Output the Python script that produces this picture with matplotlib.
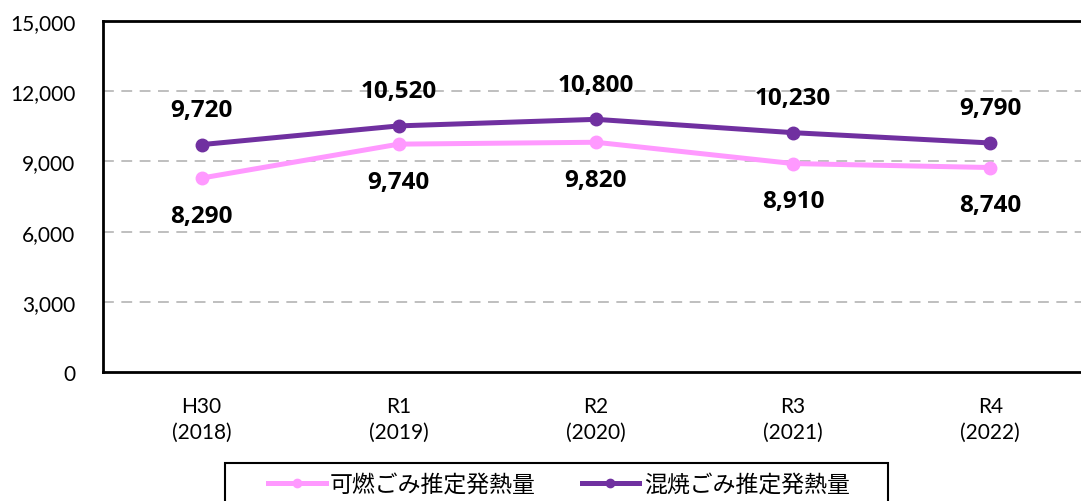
import matplotlib.pyplot as plt
from matplotlib.lines import Line2D
from matplotlib.patches import Rectangle

plt.rcParams['font.family'] = ['Lato', 'Noto Sans CJK JP', 'DejaVu Sans']

# データ
categories = ['H30\n(2018)', 'R1\n(2019)', 'R2\n(2020)', 'R3\n(2021)', 'R4\n(2022)']
kanen = [8290, 9740, 9820, 8910, 8740]        # 可燃ごみ推定発熱量
konsho = [9720, 10520, 10800, 10230, 9790]    # 混焼ごみ推定発熱量
yticks = [0, 3000, 6000, 9000, 12000, 15000]
names = ['可燃ごみ推定発熱量', '混焼ごみ推定発熱量']

pink = '#FF99FF'
purple = '#7030A0'

fig = plt.figure(figsize=(10.81, 5.02), dpi=100)
ax = fig.add_axes([0.0953, 0.257, 0.912, 0.699])

x = list(range(len(categories)))
ax.plot(x, kanen, color=pink, lw=3.6, marker='o', ms=9, zorder=3)
ax.plot(x, konsho, color=purple, lw=3.6, marker='o', ms=9, zorder=3)

lab = dict(ha='center', va='center', fontsize=17.5, fontweight='bold',
           family=['Open Sans', 'DejaVu Sans'], textcoords='offset points')
for xi, v in zip(x, konsho):
    ax.annotate(f'{v:,}', (xi, v), xytext=(0, 25), **lab)
for xi, v in zip(x, kanen):
    ax.annotate(f'{v:,}', (xi, v), xytext=(0, -27), **lab)

ax.set_xlim(-0.5, 4.5)
ax.set_ylim(0, 15000)
ax.set_yticks(yticks)
ax.set_yticklabels([f'{t:,}' for t in yticks], fontsize=15)
ax.set_xticks(x)
ax.set_xticklabels(categories, fontsize=15, linespacing=1.4)
ax.tick_params(length=0)
ax.tick_params(axis='y', pad=20)
ax.tick_params(axis='x', pad=17)

for t in yticks[1:-1]:
    ax.axhline(t, color='#B4B4B4', lw=1.2, ls=(0, (6.5, 4.5)), zorder=1)

for s in ax.spines.values():
    s.set_linewidth(2)
    s.set_color('black')

# 凡例
handles = [Line2D([], [], color=pink, lw=3.6, marker='o', ms=6),
           Line2D([], [], color=purple, lw=3.6, marker='o', ms=6)]
fig.legend(handles, names, loc='center', bbox_to_anchor=(0.517, 0.034), ncol=2,
           fontsize=16.5, frameon=False, handlelength=2.5, handletextpad=0.2,
           columnspacing=2.0, borderpad=0)
fig.patches.append(Rectangle((225 / 1081, -0.05), (888 - 225) / 1081, 0.05 + 38 / 502,
                             transform=fig.transFigure, fill=False,
                             edgecolor='black', lw=1.5))

fig.savefig('out.png', dpi=100)
